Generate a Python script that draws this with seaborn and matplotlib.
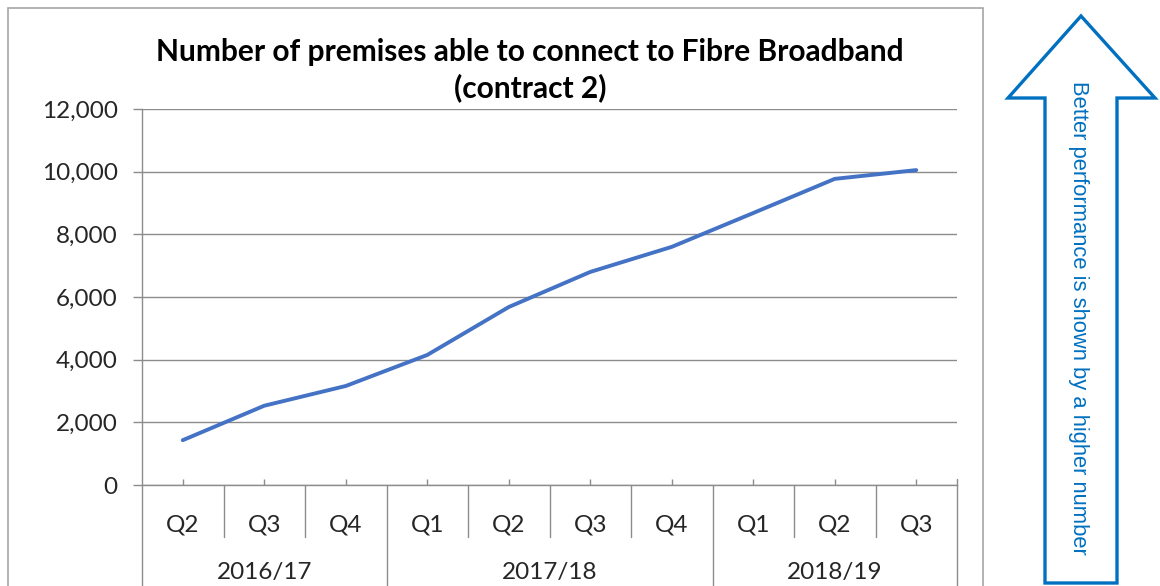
import numpy as np
import seaborn as sns
import matplotlib.pyplot as plt
from matplotlib.patches import Polygon, Rectangle
from matplotlib.ticker import FuncFormatter

# Data
quarters = ["Q2", "Q3", "Q4", "Q1", "Q2", "Q3", "Q4", "Q1", "Q2", "Q3"]
years = ["2016/17", "2017/18", "2018/19"]
year_sizes = [3, 4, 3]
premises = [1430, 2530, 3160, 4150, 5680, 6800, 7600, 8680, 9770, 10050]

sns.set_style("white")
plt.rcParams["font.family"] = ["Lato", "DejaVu Sans"]

W, H = 1160, 586
fig = plt.figure(figsize=(W / 100, H / 100), dpi=100)

def fx(px):
    return px / W

def fy(py):
    return 1 - py / H

grey = "#8c8c8c"
txt = "#262626"

# chart frame
fig.patches.append(Rectangle((fx(8), fy(600)), fx(983) - fx(8), fy(8) - fy(600),
                             transform=fig.transFigure, fill=False,
                             edgecolor="#a6a6a6", lw=1.2))

ax = fig.add_axes([fx(142), fy(485), fx(957) - fx(142), fy(109) - fy(485)])
pos = np.arange(len(quarters))
sns.lineplot(x=pos, y=premises, ax=ax, color="#4472C4", linewidth=2.8)

ax.set_xlim(-0.5, len(quarters) - 0.5)
ax.set_ylim(0, 12000)
ax.set_yticks(range(0, 12001, 2000))
ax.yaxis.set_major_formatter(FuncFormatter(lambda v, p: f"{int(v):,}"))
ax.yaxis.grid(True, color=grey, lw=1)
ax.set_axisbelow(True)
for s in ["top", "right"]:
    ax.spines[s].set_visible(False)
for s in ["left", "bottom"]:
    ax.spines[s].set_color(grey)
    ax.spines[s].set_linewidth(1)
ax.tick_params(axis="y", left=True, length=6.5, color=grey, width=1,
               pad=11, labelsize=17.5, labelcolor=txt)
ax.set_xticks(pos)
ax.set_xticklabels(quarters)
ax.tick_params(axis="x", bottom=True, direction="in", length=4.5, color=grey,
               width=1, pad=21, labelsize=17.5, labelcolor=txt)
ax.set_xlabel("")
ax.set_ylabel("")

# category separators under the axis
xt = ax.get_xaxis_transform()
bound = 0
for i, n in enumerate(year_sizes):
    left = bound - 0.5
    ax.plot([left, left], [0, -0.35], transform=xt, color=grey, lw=1, clip_on=False)
    for k in range(1, n):
        x = left + k
        ax.plot([x, x], [0, -52 / 376], transform=xt, color=grey, lw=1, clip_on=False)
    ax.text(left + n / 2, -87 / 376, years[i], transform=xt, ha="center", va="center",
            fontsize=17.5, color=txt)
    bound += n
ax.plot([bound - 0.5] * 2, [0, -0.35], transform=xt, color=grey, lw=1, clip_on=False)
ax.plot([bound - 0.5] * 2, [0, 6 / 376], transform=xt, color=grey, lw=1, clip_on=False)

fig.text(fx(530), fy(70), "Number of premises able to connect to Fibre Broadband\n(contract 2)",
         ha="center", va="center", fontsize=21.5, fontweight="bold", color="black",
         linespacing=1.32)

# arrow on the right
blue = "#0070C0"
arrow = [(1081, 16), (1155, 98), (1117, 98), (1117, 583), (1045, 583), (1045, 98), (1008, 98)]
fig.patches.append(Polygon([(fx(x), fy(y)) for x, y in arrow], closed=True,
                           transform=fig.transFigure, fill=False, edgecolor=blue,
                           lw=2.4, joinstyle="miter"))
fig.text(fx(1078), fy(318), "Better performance is shown by a higher number",
         rotation=-90, ha="center", va="center", fontsize=15.8, color=blue,
         family=["Liberation Sans", "DejaVu Sans"])

fig.savefig("out.png", dpi=100)
